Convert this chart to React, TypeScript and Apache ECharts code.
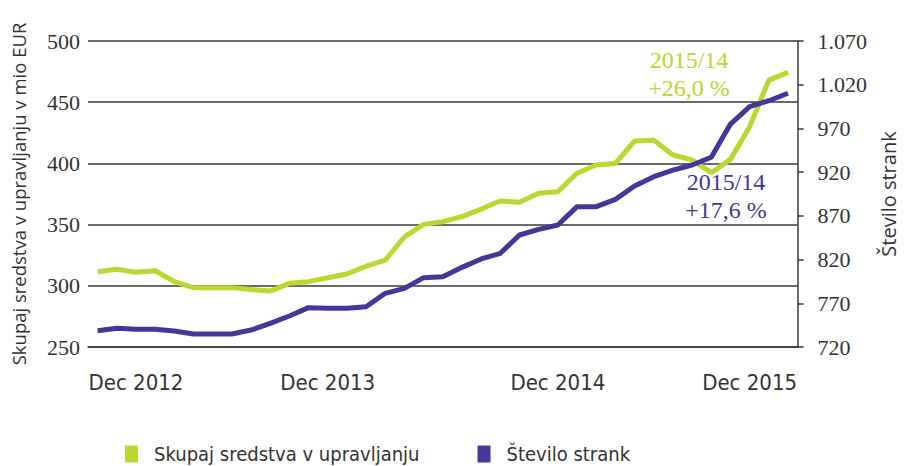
import React, { useEffect, useRef } from "react";
import * as echarts from "echarts";

const periods = Array.from({ length: 37 }, (_, i) => `P${i + 1}`);

const xTickIndex = [2, 12, 24, 34];
const xTickLabels = ["Dec 2012", "Dec 2013", "Dec 2014", "Dec 2015"];

const assets = [
  311.5, 313.5, 311, 312.3, 303.4, 298.5, 298.5, 298.5, 297, 295.7,
  302, 303.4, 306.6, 309.6, 316, 321, 340, 350.2, 352.4, 356.5,
  362.7, 369.3, 368.2, 375.6, 376.9, 391.9, 398.7, 400, 418.3, 419,
  406.9, 402.8, 392.4, 403.3, 430, 468, 474.4,
];

const clients = [
  738.6, 741.4, 740.2, 740.2, 738.3, 734.9, 734.9, 734.9, 739.4, 747,
  755.5, 765, 764.2, 764.2, 766, 781.4, 787.1, 799.3, 800.4, 811.1,
  820.7, 827.2, 848.1, 854.6, 859.5, 880.5, 880.5, 888.9, 904.1, 914.8,
  922.4, 928.2, 937, 975, 994.9, 1001.7, 1010.2,
];

const seriesNames = ["Skupaj sredstva v upravljanju", "Število strank"];
const leftAxisName = "Skupaj sredstva v upravljanju v mio EUR";
const rightAxisName = "Število strank";
const greenNote = ["2015/14", "+26,0 %"];
const purpleNote = ["2015/14", "+17,6 %"];

const GREEN = "#bdd630";
const PURPLE = "#46369a";
const TEXT = "#333333";
const GRID = "#3a3a3a";
const SERIF = "'Liberation Serif', 'Times New Roman', serif";
const NARROW = "'Liberation Sans Narrow', 'DejaVu Sans Condensed', 'Liberation Sans', sans-serif";
const SANS = "'Open Sans', 'Noto Sans', sans-serif";

function fmtThousands(v: number): string {
  const s = String(Math.round(v));
  return s.length > 3 ? s.slice(0, s.length - 3) + "." + s.slice(-3) : s;
}

export default function App() {
  const ref = useRef<HTMLDivElement>(null);

  useEffect(() => {
    if (!ref.current) return;
    const chart = echarts.init(ref.current, undefined, { renderer: "svg" });
    chart.setOption({
      animation: false,
      backgroundColor: "#ffffff",
      grid: { left: 88, right: 100, top: 41, bottom: 119, containLabel: false },
      legend: {
        left: 120,
        top: 439,
        icon: "rect",
        itemWidth: 13,
        itemHeight: 17,
        itemGap: 58,
        textStyle: { fontFamily: NARROW, fontSize: 20, color: TEXT, padding: [0, 0, 0, 11] },
        data: seriesNames,
      },
      xAxis: {
        type: "category",
        data: periods,
        boundaryGap: true,
        axisLine: { show: true, lineStyle: { color: GRID, width: 1.5 } },
        axisTick: { show: false },
        axisLabel: {
          interval: (index: number) => xTickIndex.includes(index),
          formatter: (_v: string, index: number) => {
            const k = xTickIndex.indexOf(index);
            return k >= 0 ? xTickLabels[k] : "";
          },
          fontFamily: NARROW,
          fontSize: 22,
          color: TEXT,
          margin: 24,
        },
      },
      yAxis: [
        {
          type: "value",
          min: 250,
          max: 500,
          interval: 50,
          name: leftAxisName,
          nameLocation: "middle",
          nameGap: 60,
          nameTextStyle: { fontFamily: SANS, fontSize: 18.5, color: TEXT },
          axisLine: { show: false },
          axisTick: { show: false },
          axisLabel: { fontFamily: SERIF, fontSize: 22, color: TEXT, margin: 8 },
          splitLine: { show: true, lineStyle: { color: GRID, width: 1.5 } },
        },
        {
          type: "value",
          min: 720,
          max: 1070,
          interval: 50,
          position: "right",
          name: rightAxisName,
          nameLocation: "middle",
          nameGap: 76,
          nameTextStyle: { fontFamily: SANS, fontSize: 20, color: TEXT },
          axisLine: { show: true, lineStyle: { color: GRID, width: 1.5 } },
          axisTick: { show: true, inside: false, length: 6, lineStyle: { color: GRID, width: 1.5 } },
          axisLabel: {
            fontFamily: SERIF,
            fontSize: 22,
            color: TEXT,
            margin: 20,
            formatter: (v: number) => fmtThousands(v),
          },
          splitLine: { show: false },
        },
      ],
      series: [
        {
          name: seriesNames[0],
          type: "line",
          yAxisIndex: 0,
          data: assets,
          symbol: "none",
          lineStyle: { color: GREEN, width: 5 },
          itemStyle: { color: GREEN },
        },
        {
          name: seriesNames[1],
          type: "line",
          yAxisIndex: 1,
          data: clients,
          symbol: "none",
          lineStyle: { color: PURPLE, width: 5 },
          itemStyle: { color: PURPLE },
        },
      ],
      graphic: [
        {
          type: "text",
          x: 689,
          y: 60,
          style: { text: greenNote[0], fill: GREEN, font: `24px ${SERIF}`, align: "center", verticalAlign: "middle" },
        },
        {
          type: "text",
          x: 689,
          y: 88,
          style: { text: greenNote[1], fill: GREEN, font: `24px ${SERIF}`, align: "center", verticalAlign: "middle" },
        },
        {
          type: "text",
          x: 726,
          y: 182,
          style: { text: purpleNote[0], fill: PURPLE, font: `24px ${SERIF}`, align: "center", verticalAlign: "middle" },
        },
        {
          type: "text",
          x: 726,
          y: 210,
          style: { text: purpleNote[1], fill: PURPLE, font: `24px ${SERIF}`, align: "center", verticalAlign: "middle" },
        },
      ],
    });
    return () => chart.dispose();
  }, []);

  return (
    <div
      ref={ref}
      style={{ position: "fixed", left: 0, top: 0, width: 906, height: 466, background: "#fff" }}
    />
  );
}
